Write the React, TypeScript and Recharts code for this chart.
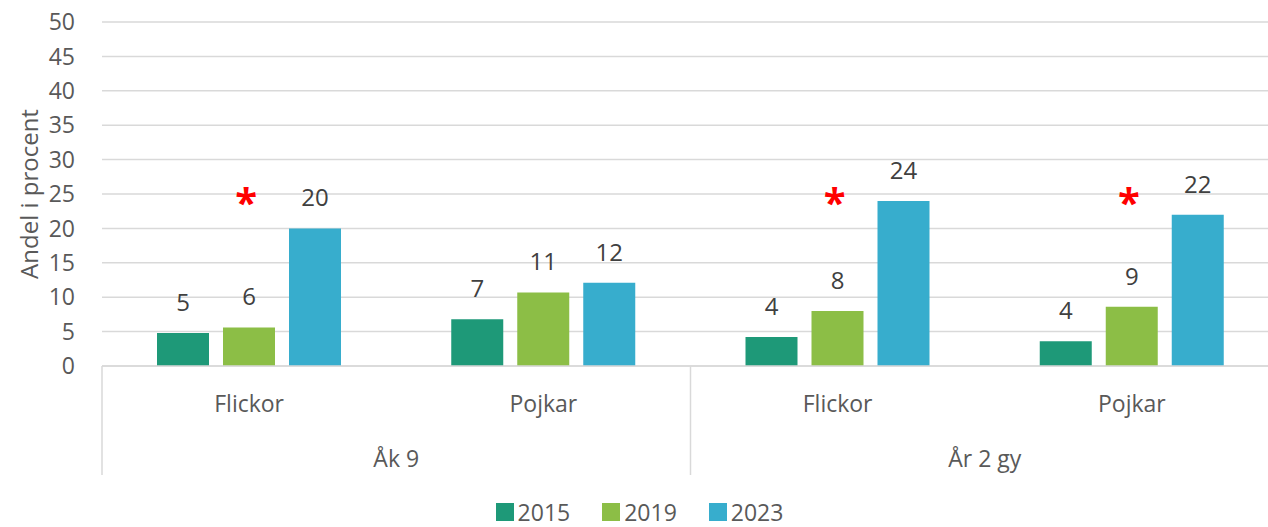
import React from "react";
import {
  ComposedChart,
  Bar,
  Scatter,
  XAxis,
  YAxis,
  CartesianGrid,
  Legend,
  LabelList,
} from "recharts";

// categories (inner level) and their group (outer level)
const subGroups = ["Flickor", "Pojkar", "Flickor", "Pojkar"];
const groups = ["Åk 9", "Åk 9", "År 2 gy", "År 2 gy"];

// values
const values2015 = [4.8, 6.8, 4.2, 3.6];
const values2019 = [5.6, 10.7, 8.0, 8.6];
const values2023 = [20.0, 12.1, 24.0, 22.0];

// significance markers (drawn above the 2019 bar)
const stars = [25, null, 25, 25];

const yTicks = [0, 5, 10, 15, 20, 25, 30, 35, 40, 45, 50];

const series = [
  { key: "y2015", name: "2015", color: "#1e9978" },
  { key: "y2019", name: "2019", color: "#8cbe46" },
  { key: "y2023", name: "2023", color: "#37adcd" },
];

const data = subGroups.map((sub, i) => ({
  sub,
  group: groups[i],
  y2015: values2015[i],
  y2019: values2019[i],
  y2023: values2023[i],
  star: stars[i],
}));

const textGray = "#595959";
const lineGray = "#d9d9d9";

const CategoryTick = (props: any) => {
  const { x, y, payload, index } = props;
  const half = payload?.offset || 147;
  const i = payload?.index ?? index;
  const firstOfGroup = i === 0 || groups[i] !== groups[i - 1];
  const lastOfGroup = i === groups.length - 1;
  return (
    <g>
      <text x={x} y={y + 46} textAnchor="middle" fill={textGray} fontSize={23}>
        {payload.value}
      </text>
      {firstOfGroup && (
        <>
          <line x1={x - half} y1={y} x2={x - half} y2={y + 109} stroke={lineGray} strokeWidth={1.5} />
          <text x={x + half} y={y + 101} textAnchor="middle" fill={textGray} fontSize={23}>
            {groups[i]}
          </text>
        </>
      )}
      {lastOfGroup && (
        <line x1={x + half} y1={y} x2={x + half} y2={y + 109} stroke={lineGray} strokeWidth={1.5} />
      )}
    </g>
  );
};

const YLabel = (props: any) => {
  const { viewBox } = props;
  const cx = viewBox.x + 28;
  const cy = viewBox.y + viewBox.height / 2;
  return (
    <text
      x={cx}
      y={cy}
      transform={`rotate(-90 ${cx} ${cy})`}
      textAnchor="middle"
      dominantBaseline="central"
      fill={textGray}
      fontSize={24}
    >
      Andel i procent
    </text>
  );
};

const Star = (props: any) => {
  const { cx, cy, payload } = props;
  if (payload?.star == null) return null;
  return (
    <text x={cx - 3} y={cy + 23} textAnchor="middle" fill="#ff0000" fontSize={40} fontWeight="bold">
      *
    </text>
  );
};

const LegendContent = () => (
  <div
    style={{
      height: 40,
      display: "flex",
      justifyContent: "center",
      alignItems: "flex-start",
      paddingTop: 14,
      boxSizing: "border-box",
      fontSize: 23,
      color: textGray,
      lineHeight: "22px",
    }}
  >
    {series.map((s) => (
      <div key={s.key} style={{ display: "flex", alignItems: "center", margin: "0 16px" }}>
        <span style={{ width: 18, height: 18, background: s.color, marginRight: 4, display: "inline-block" }} />
        <span>{s.name}</span>
      </div>
    ))}
  </div>
);

export default function App() {
  return (
    <div
      style={{
        position: "absolute",
        left: 0,
        top: 0,
        width: 1268,
        height: 527,
        overflow: "hidden",
        background: "#ffffff",
        fontFamily: "'Open Sans', sans-serif",
      }}
    >
      <ComposedChart
        width={1290}
        height={527}
        data={data}
        margin={{ top: 22, right: 11, bottom: 0, left: 0 }}
        barGap={14}
      >
        <CartesianGrid vertical={false} stroke={lineGray} strokeWidth={1.5} />
        <XAxis
          dataKey="sub"
          axisLine={{ stroke: lineGray, strokeWidth: 1.5 }}
          tickLine={false}
          tickSize={0}
          tickMargin={0}
          height={121}
          interval={0}
          tick={<CategoryTick />}
        />
        <YAxis
          width={102}
          domain={[0, 50]}
          ticks={yTicks}
          axisLine={false}
          tickLine={false}
          tickSize={0}
          tickMargin={27}
          tick={{ fill: textGray, fontSize: 23 }}
          label={<YLabel />}
        />
        <Legend verticalAlign="bottom" content={<LegendContent />} />
        {series.map((s) => (
          <Bar key={s.key} dataKey={s.key} name={s.name} fill={s.color} barSize={52} isAnimationActive={false}>
            <LabelList
              dataKey={s.key}
              position="top"
              offset={22}
              fill="#404040"
              fontSize={24}
              formatter={(v: any) => Math.round(Number(v))}
            />
          </Bar>
        ))}
        <Scatter dataKey="star" legendType="none" shape={<Star />} isAnimationActive={false} />
      </ComposedChart>
    </div>
  );
}
